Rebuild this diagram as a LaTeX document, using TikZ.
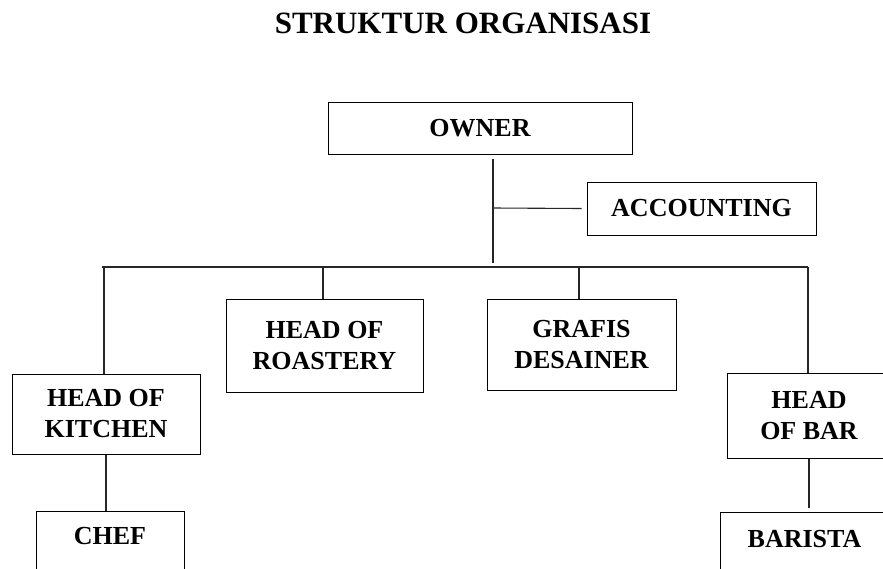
\documentclass[tikz,border=0pt]{standalone}
\usepackage{fontspec}
\setmainfont{Liberation Serif}
\usetikzlibrary{calc}

\begin{document}
\begin{tikzpicture}[x=1pt, y=-1pt,
	jabatan/.style={draw, line width=1pt, align=center, font=\fontsize{26}{31}\selectfont\bfseries},
	garis/.style={line width=1.1pt, black!85}]
		%%%%% START %%%%%
		\useasboundingbox (0, 0) rectangle (883, 568);
		\clip (0, 0) rectangle (883, 568);
		
		\node[font=\fontsize{31}{36}\selectfont\bfseries, anchor=base] (judul) at (463, 33) {STRUKTUR ORGANISASI};
		
		\node[jabatan, minimum width=304, minimum height=52] (owner) at (480, 128) {OWNER};
		\node[jabatan, minimum width=229, minimum height=53] (accounting) at (701.5, 208.5) {ACCOUNTING};
		
		\node[jabatan, minimum width=197, minimum height=93] (roastery) at (324.5, 345.5) {HEAD OF\\ROASTERY};
		\node[jabatan, minimum width=189, minimum height=91] (grafis) at (581.5, 344.5) {GRAFIS\\DESAINER};
		\node[jabatan, minimum width=188, minimum height=80] (kitchen) at (106, 414) {HEAD OF\\KITCHEN};
		\node[jabatan, minimum width=164, minimum height=85] (bar) at (809, 415.5) {HEAD\\OF BAR};
		
		\node[jabatan, minimum width=148, inner ysep=16, text depth=40, anchor=north] (chef) at (110, 511) {CHEF};
		\node[jabatan, minimum width=169, inner ysep=18, text depth=40, anchor=north] (barista) at (804.5, 512) {BARISTA};
		
		\coordinate (pusat) at (493, 159);
		\coordinate (cabang) at (493, 208);
		\coordinate (ujung) at (493, 263);
		\coordinate (bus kiri) at (102, 267);
		\coordinate (bus kanan) at (808, 267);
		
		\draw[garis] (pusat) -- (ujung);
		\draw[garis] (cabang) -- ([xshift=-5]accounting.west);
		\draw[garis] (bus kiri) -- (bus kanan);
		
		\draw[garis] (bus kiri -| 104, 0) -- (kitchen.north -| 104, 0);
		\draw[garis] (roastery.north -| 323, 0) -- (bus kiri -| 323, 0);
		\draw[garis] (grafis.north -| 579, 0) -- (bus kiri -| 579, 0);
		\draw[garis] (bus kanan) -- (bar.north -| bus kanan);
		
		\draw[garis] (kitchen.south) -- (kitchen.south |- chef.north);
		\draw[garis] (bar.south) -- ([yshift=4]bar.south |- barista.north);
		%%%%% END %%%%%
\end{tikzpicture}
\end{document}
